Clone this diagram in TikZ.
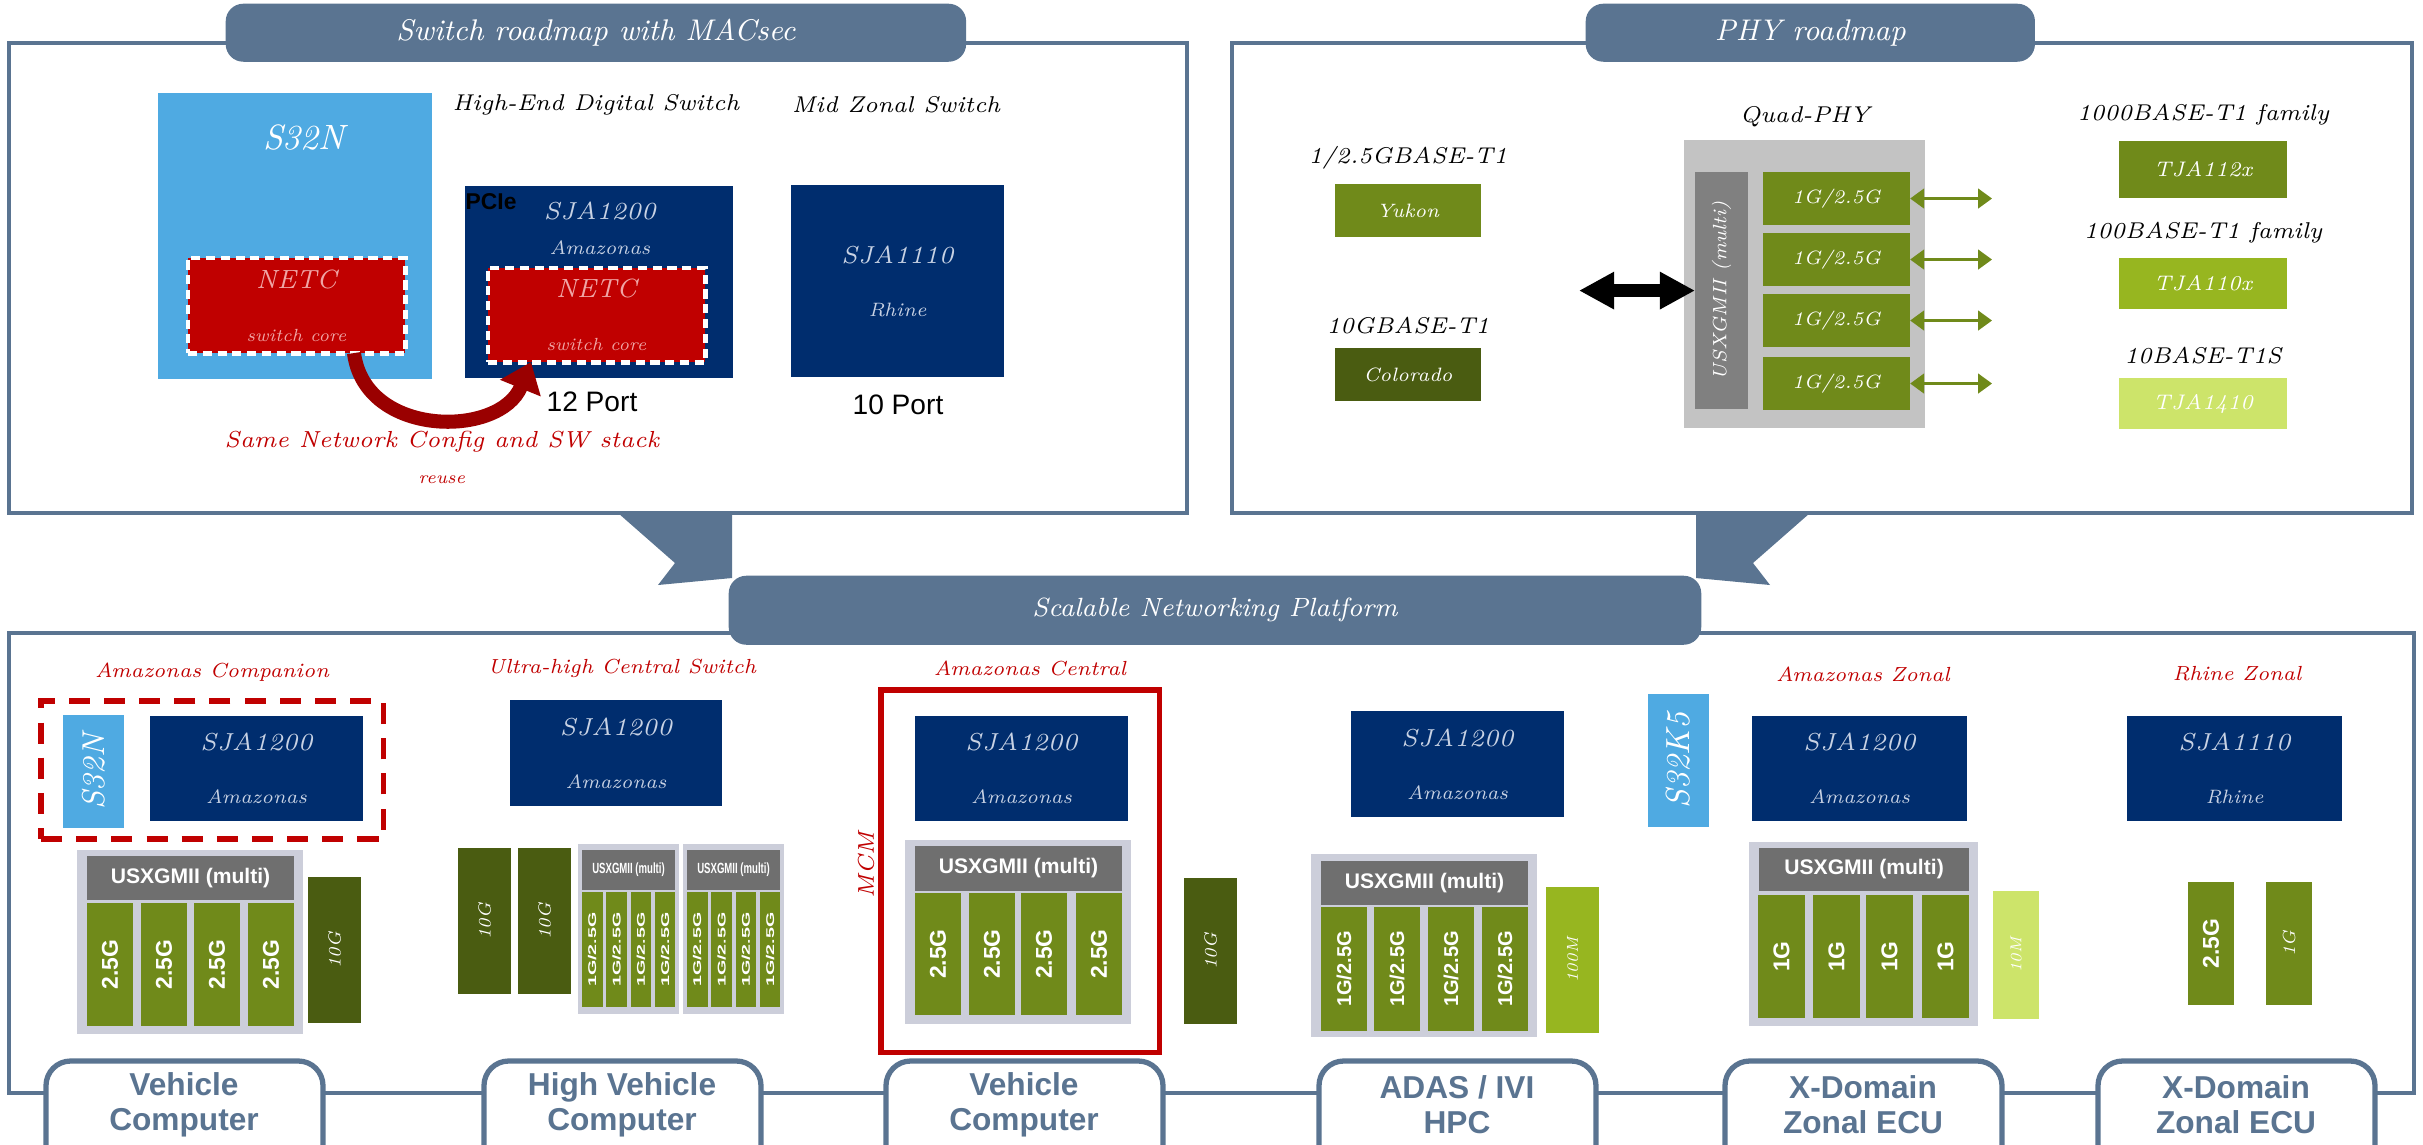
\documentclass[tikz,border=0pt]{standalone}
\usepackage{fontspec}
\setsansfont{Liberation Sans}
\usepackage{graphicx}
\usepackage{xcolor}
\usetikzlibrary{positioning}
\usetikzlibrary{calc}
\usetikzlibrary{arrows.meta}

\definecolor{steel}{RGB}{90,116,145}
\definecolor{navy}{RGB}{0,45,110}
\definecolor{skyblue}{RGB}{79,170,226}
\definecolor{nxpred}{RGB}{192,0,0}
\definecolor{grnmid}{RGB}{112,138,26}
\definecolor{grndark}{RGB}{74,92,17}
\definecolor{grnlight}{RGB}{151,182,32}
\definecolor{grnpale}{RGB}{205,228,106}
\definecolor{grpgray}{RGB}{204,206,218}
\definecolor{hdrgray}{RGB}{111,111,111}
\definecolor{phygray}{RGB}{195,195,195}
\definecolor{bargray}{RGB}{128,128,128}
\definecolor{chiptxt}{RGB}{200,210,228}
\definecolor{netctxt}{RGB}{240,165,165}

\newcommand{\chiplbl}[2]{\itshape\fontsize{7}{8}\selectfont #1\\[3pt]\itshape\fontsize{5.5}{7}\selectfont #2}
\newcommand{\netc}{\itshape\fontsize{7.5}{8}\selectfont NETC\\[3pt]\itshape\fontsize{5}{6}\selectfont switch core}

\begin{document}
\begin{tikzpicture}[x=0.01cm, y=-0.01cm,
  panel/.style={draw=steel, line width=1.2pt},
  tab/.style={anchor=north west, fill=steel, rounded corners=5pt, inner sep=0pt, text=white},
  chip/.style={anchor=north west, inner sep=0pt, outer sep=0pt, align=center},
  scr/.style={font=\itshape\fontsize{#1}{#1}\selectfont},
  bld/.style={font=\sffamily\bfseries\fontsize{#1}{#1}\selectfont},
  hdr/.style={chip, fill=hdrgray, text=white},
  portbar/.style={chip, fill=grnmid, text=white},
  redlbl/.style={scr=5.8, text=nxpred},
  platbox/.style={draw=steel, line width=1.5pt, fill=white, rounded corners=7pt},
  plattxt/.style={text=steel, align=center, font=\sffamily\bfseries\fontsize{9}{10}\selectfont},
  reusearrow/.style={draw=nxpred!80!black, line width=4pt, -{Triangle[length=8pt,width=12pt]}},
  portarrow/.style={draw=grnmid, line width=1.1pt, {Triangle[length=4pt,width=5.5pt]}-{Triangle[length=4pt,width=5.5pt]}},
  hostarrow/.style={draw=black, line width=3.8pt, {Triangle[length=10pt,width=10pt]}-{Triangle[length=10pt,width=10pt]}}
]
\useasboundingbox (0,0) rectangle (2423,1144);
\clip (0,0) rectangle (2423,1144);

% top left panel
\draw[panel] (9,43) rectangle (1187,513);
\node[tab, minimum width=7.4cm, minimum height=0.58cm, scr=8.5] (tabsw) at (225,3) {Switch roadmap with MACsec};

\node[chip, fill=skyblue, minimum width=2.74cm, minimum height=2.86cm] (s32n) at (158,93) {};
\node[scr=10, text=white] (s32nlbl) at (304,137) {S32N};
\node[chip, fill=nxpred, draw=white, line width=1.4pt, dash pattern=on 2.6pt off 1.6pt, minimum width=2.17cm, minimum height=0.95cm, text=netctxt] (netcA) at (188,258) {\netc};

\node[chip, fill=navy, minimum width=2.68cm, minimum height=1.92cm] (sjahi) at (465,186) {};
\node[anchor=west, inner sep=0pt, bld=6.5] (pcie) at (465,202) {PCIe};
\node[align=center, text=chiptxt, scr=7] (sjahilbl) at (600,228) {\chiplbl{SJA1200}{Amazonas}};
\node[chip, fill=nxpred, draw=white, line width=1.4pt, dash pattern=on 2.6pt off 1.6pt, minimum width=2.17cm, minimum height=0.94cm, text=netctxt] (netcB) at (488,268) {\netc};

\node[chip, fill=navy, minimum width=2.13cm, minimum height=1.92cm, text=chiptxt] (sjamid) at (791,185) {\chiplbl{SJA1110}{Rhine}};

\node[scr=6.5] (hilbl) at (596,105) {High-End Digital Switch};
\node[scr=6.5] (midlbl) at (896,105) {Mid Zonal Switch};
\node[font=\sffamily\fontsize{8}{8}\selectfont] (port12) at (592,402) {12 Port};
\node[font=\sffamily\fontsize{8}{8}\selectfont] (port10) at (898,405) {10 Port};

\draw[reusearrow] ($(netcA.south west)+(166,0)$) .. controls (365,438) and (500,438) .. ($(netcB.south west)+(43,0)$);
\node[scr=6.6, text=nxpred] (reuse1) at (442,442) {Same Network Config and SW stack};
\node[scr=5, text=nxpred] (reuse2) at (442,480) {reuse};

% top right panel
\draw[panel] (1232,43) rectangle (2412,513);
\node[tab, minimum width=4.49cm, minimum height=0.58cm, scr=8.5] (tabphy) at (1585,3) {PHY roadmap};

\node[scr=6.5] (quadlbl) at (1805,117) {Quad-PHY};
\node[chip, fill=phygray, minimum width=2.41cm, minimum height=2.88cm] (quadphy) at (1684,140) {};
\node[chip, fill=bargray, minimum width=0.53cm, minimum height=2.37cm, text=white, scr=5.5] (usx) at (1695,172) {\rotatebox{90}{USXGMII (multi)}};
\foreach \i/\y in {1/172, 2/233, 3/294, 4/357}
  \node[chip, fill=grnmid, minimum width=1.47cm, minimum height=0.53cm, text=white, scr=5.5] (port\i) at (1763,\y) {1G/2.5G};
\foreach \i in {1,...,4} {
  \coordinate (ext\i) at ($(port\i.east)+(82,0)$);
  \draw[portarrow] (port\i.east) -- (ext\i);
}
\coordinate (host) at ($(usx.west)+(-116,0)$);
\draw[hostarrow] (host) -- (usx.west);

\node[chip, fill=grnmid, minimum width=1.46cm, minimum height=0.53cm, text=white, scr=5.5] (yukon) at (1335,184) {Yukon};
\node[scr=6.5, above=0.02cm of yukon] (yukonlbl) {1/2.5GBASE-T1};
\node[chip, fill=grndark, minimum width=1.46cm, minimum height=0.53cm, text=white, scr=5.5] (colorado) at (1335,348) {Colorado};
\node[scr=6.5, above=0.02cm of colorado] (coloradolbl) {10GBASE-T1};

\node[chip, fill=grnmid, minimum width=1.68cm, minimum height=0.57cm, text=white, scr=6] (tjagig) at (2119,141) {TJA112x};
\node[scr=6.5, above=0.03cm of tjagig] (tjagiglbl) {1000BASE-T1 family};
\node[chip, fill=grnlight, minimum width=1.68cm, minimum height=0.51cm, text=white, scr=6] (tjahun) at (2119,258) {TJA110x};
\node[scr=6.5, above=0.02cm of tjahun] (tjahunlbl) {100BASE-T1 family};
\node[chip, fill=grnpale, minimum width=1.68cm, minimum height=0.51cm, text=white, scr=6] (tjaten) at (2119,378) {TJA1410};
\node[scr=6.5, above=0.02cm of tjaten] (tjatenlbl) {10BASE-T1S};

% funnel into bottom panel
\fill[steel] (618,513) -- (675,563) -- (658,585) -- (732,578) -- (732,513) -- cycle;
\fill[steel] (1810,513) -- (1753,563) -- (1770,585) -- (1696,578) -- (1696,513) -- cycle;

% bottom panel
\draw[panel] (9,633) rectangle (2414,1093);
\node[tab, minimum width=9.72cm, minimum height=0.69cm, scr=7.5] (tabplat) at (728,575) {Scalable Networking Platform};

% vehicle computer
\node[redlbl] (compl) at (212,672) {Amazonas Companion};
\node[chip, draw=nxpred, line width=1.5pt, dash pattern=on 6pt off 4pt, minimum width=3.42cm, minimum height=1.38cm] (compbox) at (41,701) {};
\node[chip, fill=skyblue, minimum width=0.61cm, minimum height=1.13cm, text=white, scr=9] (s32nb) at (63,715) {\rotatebox{90}{S32N}};
\node[chip, fill=navy, minimum width=2.13cm, minimum height=1.05cm, text=chiptxt] (sjaA) at (150,716) {\chiplbl{SJA1200}{Amazonas}};
\node[chip, fill=grpgray, minimum width=2.26cm, minimum height=1.84cm] (grpA) at (77,850) {};
\node[hdr, minimum width=2.07cm, minimum height=0.44cm, bld=6] (hdrA) at (87,856) {USXGMII (multi)};
\foreach \i/\x in {1/87, 2/141, 3/194, 4/248}
  \node[portbar, minimum width=0.46cm, minimum height=1.23cm, bld=6.5] (pA\i) at (\x,903) {\rotatebox{90}{2.5G}};
\node[chip, fill=grndark, minimum width=0.53cm, minimum height=1.46cm, text=white, scr=5] (tenA) at (308,877) {\rotatebox{90}{10G}};

% high vehicle computer
\node[redlbl] (ultral) at (622,668) {Ultra-high Central Switch};
\node[chip, fill=navy, minimum width=2.12cm, minimum height=1.06cm, text=chiptxt] (sjaB) at (510,700) {\chiplbl{SJA1200}{Amazonas}};
\foreach \i/\x in {1/458, 2/518}
  \node[chip, fill=grndark, minimum width=0.53cm, minimum height=1.46cm, text=white, scr=5] (tenB\i) at (\x,848) {\rotatebox{90}{10G}};
\foreach \g/\x in {1/578, 2/683} {
  \node[chip, fill=grpgray, minimum width=1.01cm, minimum height=1.70cm] (grpB\g) at (\x,844) {};
  \node[hdr, minimum width=0.93cm, minimum height=0.40cm, bld=4.2] (hdrB\g) at (\x+4,850) {\scalebox{0.65}[1]{USXGMII (multi)}};
  \foreach \j in {0,...,3}
    \node[portbar, minimum width=0.205cm, minimum height=1.15cm, bld=4] (pB\g\j) at (\x+4+\j*24.3,892) {\rotatebox{90}{\scalebox{1.4}[0.8]{1G/2.5G}}};
}

% vehicle computer (mcm)
\node[redlbl] (centl) at (1030,668) {Amazonas Central};
\node[chip, draw=nxpred, line width=1.5pt, minimum width=2.78cm, minimum height=3.62cm] (mcmbox) at (881,690) {};
\node[scr=6.5, text=nxpred, rotate=90] (mcm) at (866,865) {MCM};
\node[chip, fill=navy, minimum width=2.13cm, minimum height=1.05cm, text=chiptxt] (sjaC) at (915,716) {\chiplbl{SJA1200}{Amazonas}};
\node[chip, fill=grpgray, minimum width=2.26cm, minimum height=1.84cm] (grpC) at (905,840) {};
\node[hdr, minimum width=2.07cm, minimum height=0.45cm, bld=6] (hdrC) at (915,846) {USXGMII (multi)};
\foreach \i/\x in {1/915, 2/969, 3/1021, 4/1076}
  \node[portbar, minimum width=0.46cm, minimum height=1.22cm, bld=6.5] (pC\i) at (\x,893) {\rotatebox{90}{2.5G}};
\node[chip, fill=grndark, minimum width=0.53cm, minimum height=1.46cm, text=white, scr=5] (tenC) at (1184,878) {\rotatebox{90}{10G}};

% adas / ivi
\node[chip, fill=navy, minimum width=2.13cm, minimum height=1.06cm, text=chiptxt] (sjaD) at (1351,711) {\chiplbl{SJA1200}{Amazonas}};
\node[chip, fill=grpgray, minimum width=2.26cm, minimum height=1.83cm] (grpD) at (1311,854) {};
\node[hdr, minimum width=2.07cm, minimum height=0.44cm, bld=6] (hdrD) at (1321,861) {USXGMII (multi)};
\foreach \i/\x in {1/1321, 2/1374, 3/1428, 4/1482}
  \node[portbar, minimum width=0.46cm, minimum height=1.24cm, bld=5.7] (pD\i) at (\x,907) {\rotatebox{90}{1G/2.5G}};
\node[chip, fill=grnlight, minimum width=0.53cm, minimum height=1.46cm, text=white, scr=4.5] (hundD) at (1546,887) {\rotatebox{90}{100M}};

\node[chip, fill=skyblue, minimum width=0.61cm, minimum height=1.33cm, text=white, scr=9.5] (s32k5) at (1648,694) {\rotatebox{90}{S32K5}};

% amazonas zonal
\node[redlbl] (zonl) at (1863,674) {Amazonas Zonal};
\node[chip, fill=navy, minimum width=2.15cm, minimum height=1.05cm, text=chiptxt] (sjaE) at (1752,716) {\chiplbl{SJA1200}{Amazonas}};
\node[chip, fill=grpgray, minimum width=2.29cm, minimum height=1.84cm] (grpE) at (1749,842) {};
\node[hdr, minimum width=2.10cm, minimum height=0.43cm, bld=6] (hdrE) at (1759,848) {USXGMII (multi)};
\foreach \i/\x in {1/1758, 2/1813, 3/1866, 4/1922}
  \node[portbar, minimum width=0.47cm, minimum height=1.23cm, bld=6.5] (pE\i) at (\x,895) {\rotatebox{90}{1G}};
\node[chip, fill=grnpale, minimum width=0.46cm, minimum height=1.28cm, text=white, scr=4.5] (tenmE) at (1993,891) {\rotatebox{90}{10M}};

% rhine zonal
\node[redlbl] (rhinel) at (2237,674) {Rhine Zonal};
\node[chip, fill=navy, minimum width=2.15cm, minimum height=1.05cm, text=chiptxt] (sjaF) at (2127,716) {\chiplbl{SJA1110}{Rhine}};
\node[portbar, minimum width=0.46cm, minimum height=1.23cm, bld=6.5] (pF1) at (2188,882) {\rotatebox{90}{2.5G}};
\node[portbar, minimum width=0.46cm, minimum height=1.23cm, scr=5] (pF2) at (2266,882) {\rotatebox{90}{1G}};

% platform labels
\foreach \x/\nm/\txt in {46/vcA/{Vehicle\\Computer}, 484/hvc/{High Vehicle\\Computer}, 886/vcB/{Vehicle\\Computer}, 1319/adas/{ADAS / IVI\\HPC}, 1725/xdA/{X-Domain\\Zonal ECU}, 2098/xdB/{X-Domain\\Zonal ECU}} {
  \draw[platbox] (\x,1061) rectangle (\x+277,1180);
  \node[plattxt] (\nm) at (\x+138,1105) {\txt};
}
\end{tikzpicture}
\end{document}
